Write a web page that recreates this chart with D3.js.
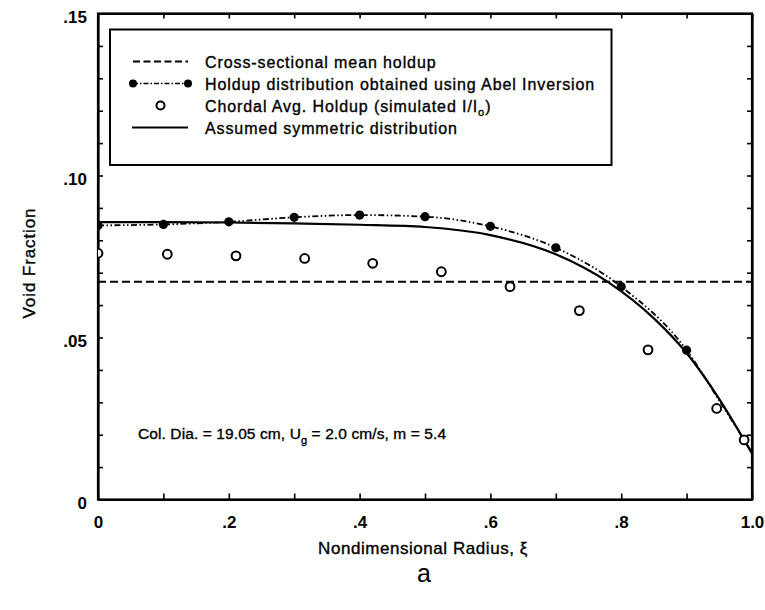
<!DOCTYPE html>
<html>
<head>
<meta charset="utf-8">
<script src="https://cdn.jsdelivr.net/npm/d3@7"></script>
<style>
  html, body { margin: 0; padding: 0; background: #fff; }
  svg { display: block; }
  text { font-family: "Liberation Sans", Arial, Helvetica, sans-serif; fill: #000; }
  .heavy { stroke: #000; stroke-width: 0.35px; }
</style>
</head>
<body>
<svg id="chart" width="765" height="610"></svg>
<script>
// Radial void-fraction profiles, column dia. 19.05 cm, Ug = 2.0 cm/s
const meanHoldup = 0.0672;

// Abel-inversion holdup distribution (markers)
const abelRadius = [0, 0.1, 0.2, 0.3, 0.4, 0.5, 0.6, 0.7, 0.8, 0.9];
const abelHoldup = [0.0846, 0.0849, 0.0857, 0.0871, 0.0878, 0.0873, 0.0843, 0.0777, 0.0657, 0.0461];
// continuation of the Abel line to the wall
const abelTailRadius = [0.95, 1.0];
const abelTailHoldup = [0.0305, 0.0145];

// Chordal average holdup (simulated I/Io)
const chordRadius = [0, 0.106, 0.211, 0.316, 0.42, 0.525, 0.63, 0.736, 0.841, 0.946, 0.988];
const chordHoldup = [0.0760, 0.0757, 0.0752, 0.0744, 0.0729, 0.0703, 0.0657, 0.0583, 0.0462, 0.0281, 0.0184];

// Assumed symmetric distribution
const symRadius = [0, 0.1, 0.2, 0.3, 0.4, 0.5, 0.6, 0.7, 0.78, 0.85, 0.9, 0.95, 1.0];
const symHoldup = [0.0856, 0.0856, 0.0855, 0.0852, 0.0848, 0.0841, 0.0816, 0.0757, 0.0671, 0.0559, 0.0452, 0.0310, 0.0142];

// Axis ticks and labels
const xTicks = [0, 0.1, 0.2, 0.3, 0.4, 0.5, 0.6, 0.7, 0.8, 0.9, 1.0];
const xTickLabels = ["0", "", ".2", "", ".4", "", ".6", "", ".8", "", "1.0"];
const yTicks = [0, 0.01, 0.02, 0.03, 0.04, 0.05, 0.06, 0.07, 0.08, 0.09, 0.10, 0.11, 0.12, 0.13, 0.14, 0.15];
const yTickLabels = ["0", "", "", "", "", ".05", "", "", "", "", ".10", "", "", "", "", ".15"];

const legendLabels = [
  "Cross-sectional mean holdup",
  "Holdup distribution obtained using Abel Inversion",
  "Chordal Avg. Holdup (simulated I/I",
  "Assumed symmetric distribution"
];

const svg = d3.select("#chart");
const plotLeft = 98, plotRight = 752, plotTop = 13.5, plotBottom = 499.5;

const x = d3.scaleLinear().domain([0, 1]).range([plotLeft, plotRight]);
const y = d3.scaleLinear().domain([0, 0.15]).range([plotBottom, plotTop]);

const fontPx = 16;
const letterSp = "0.9px";

// clip to plot area
svg.append("defs").append("clipPath").attr("id", "plotClip")
  .append("rect").attr("x", plotLeft).attr("y", plotTop)
  .attr("width", plotRight - plotLeft).attr("height", plotBottom - plotTop);

// Axes (inward ticks)
const xLab = d => xTickLabels[xTicks.findIndex(v => Math.abs(v - d) < 1e-9)];
const yLab = d => yTickLabels[yTicks.findIndex(v => Math.abs(v - d) < 1e-9)];

const gBottom = svg.append("g").attr("transform", `translate(0,${plotBottom})`)
  .call(d3.axisBottom(x).tickValues(xTicks).tickFormat(xLab).tickSizeInner(-6).tickSizeOuter(0).tickPadding(16));
const gTop = svg.append("g").attr("transform", `translate(0,${plotTop})`)
  .call(d3.axisTop(x).tickValues(xTicks).tickFormat("").tickSizeInner(-5).tickSizeOuter(0));
const gLeft = svg.append("g").attr("transform", `translate(${plotLeft},0)`)
  .call(d3.axisLeft(y).tickValues(yTicks).tickFormat(yLab).tickSizeInner(-5).tickSizeOuter(0).tickPadding(11));
const gRight = svg.append("g").attr("transform", `translate(${plotRight},0)`)
  .call(d3.axisRight(y).tickValues(yTicks).tickFormat("").tickSizeInner(-5).tickSizeOuter(0));

[gBottom, gTop, gLeft, gRight].forEach(g => {
  g.select(".domain").attr("stroke", "#000").attr("stroke-width", 2.2);
  g.selectAll(".tick line").attr("stroke", "#000").attr("stroke-width", 1.6);
  g.selectAll(".tick text")
    .attr("font-size", fontPx + 1).attr("font-weight", "bold")
    .style("font-family", "'Liberation Sans', Arial, sans-serif");
});
gLeft.selectAll(".tick text").attr("dy", "0.5em");
// frame
svg.append("rect").attr("x", plotLeft).attr("y", plotTop)
  .attr("width", plotRight - plotLeft).attr("height", plotBottom - plotTop)
  .attr("fill", "none").attr("stroke", "#000").attr("stroke-width", 2.2);

const plot = svg.append("g").attr("clip-path", "url(#plotClip)");

// mean holdup line
plot.append("line")
  .attr("x1", x(0)).attr("x2", x(1)).attr("y1", y(meanHoldup)).attr("y2", y(meanHoldup))
  .attr("stroke", "#000").attr("stroke-width", 2).attr("stroke-dasharray", "8,4");

// assumed symmetric distribution
const curveLine = d3.line().x(d => x(d[0])).y(d => y(d[1])).curve(d3.curveMonotoneX);
plot.append("path")
  .datum(symRadius.map((r, i) => [r, symHoldup[i]]))
  .attr("d", curveLine).attr("fill", "none").attr("stroke", "#000").attr("stroke-width", 2.2);

// Abel inversion line
const abelPts = abelRadius.map((r, i) => [r, abelHoldup[i]])
  .concat(abelTailRadius.map((r, i) => [r, abelTailHoldup[i]]));
plot.append("path")
  .datum(abelPts)
  .attr("d", curveLine).attr("fill", "none").attr("stroke", "#000").attr("stroke-width", 1.8)
  .attr("stroke-dasharray", "6,2.5,1.5,2.5,1.5,2.5");

// Abel markers
plot.selectAll(".abel").data(abelRadius.map((r, i) => [r, abelHoldup[i]])).join("circle")
  .attr("class", "abel")
  .attr("cx", d => x(d[0])).attr("cy", d => y(d[1])).attr("r", 4.6).attr("fill", "#000");

// chordal markers
plot.selectAll(".chord").data(chordRadius.map((r, i) => [r, chordHoldup[i]])).join("circle")
  .attr("class", "chord")
  .attr("cx", d => x(d[0])).attr("cy", d => y(d[1])).attr("r", 4.4)
  .attr("fill", "#fff").attr("stroke", "#000").attr("stroke-width", 2);

// Legend
const lg = svg.append("g");
lg.append("rect").attr("x", 110).attr("y", 29.5).attr("width", 501.5).attr("height", 135.5)
  .attr("fill", "#fff").attr("stroke", "#000").attr("stroke-width", 2);
const rowY = [61.5, 83.5, 105.5, 127.5];
const symX0 = 133, symX1 = 188, textX = 205;
lg.append("line").attr("x1", symX0).attr("x2", symX1).attr("y1", rowY[0]).attr("y2", rowY[0])
  .attr("stroke", "#000").attr("stroke-width", 2).attr("stroke-dasharray", "7,3.5");
lg.append("line").attr("x1", symX0).attr("x2", symX1).attr("y1", rowY[1]).attr("y2", rowY[1])
  .attr("stroke", "#000").attr("stroke-width", 1.6).attr("stroke-dasharray", "5,2,1.5,2");
lg.selectAll(".ld").data([symX0, symX1]).join("circle")
  .attr("class", "ld")
  .attr("cx", d => d).attr("cy", rowY[1]).attr("r", 4).attr("fill", "#000");
lg.append("circle").attr("cx", (symX0 + symX1) / 2).attr("cy", rowY[2]).attr("r", 4)
  .attr("fill", "#fff").attr("stroke", "#000").attr("stroke-width", 2);
lg.append("line").attr("x1", symX0 - 1).attr("x2", symX1).attr("y1", rowY[3]).attr("y2", rowY[3])
  .attr("stroke", "#000").attr("stroke-width", 2);

legendLabels.forEach((t, i) => {
  const tx = lg.append("text").attr("class", "heavy").attr("x", textX).attr("y", rowY[i] + 6)
    .attr("font-size", fontPx).attr("letter-spacing", letterSp);
  tx.append("tspan").text(t);
  if (i === 2) {
    tx.append("tspan").attr("font-size", 11).attr("dy", 4).text("o");
    tx.append("tspan").attr("dy", -4).text(")");
  }
});

// Annotation
const ann = svg.append("text").attr("class", "heavy").attr("x", 138).attr("y", 439)
  .attr("font-size", 15.5).attr("letter-spacing", "0.1px");
ann.append("tspan").text("Col. Dia. = 19.05 cm, U");
ann.append("tspan").attr("font-size", 11).attr("dy", 5).text("g");
ann.append("tspan").attr("dy", -5).text(" = 2.0 cm/s, m = 5.4");

// Axis titles
svg.append("text").attr("class", "heavy").attr("x", 423).attr("y", 554).attr("text-anchor", "middle")
  .attr("font-size", fontPx + 1).attr("letter-spacing", "0.55px").text("Nondimensional Radius, ξ");
svg.append("text").attr("x", 424).attr("y", 582).attr("text-anchor", "middle")
  .attr("font-size", 25).text("a");
svg.append("text").attr("class", "heavy")
  .attr("transform", "translate(35,263) rotate(-90)").attr("text-anchor", "middle")
  .attr("font-size", fontPx + 1).attr("letter-spacing", letterSp).text("Void Fraction");
</script>
</body>
</html>
